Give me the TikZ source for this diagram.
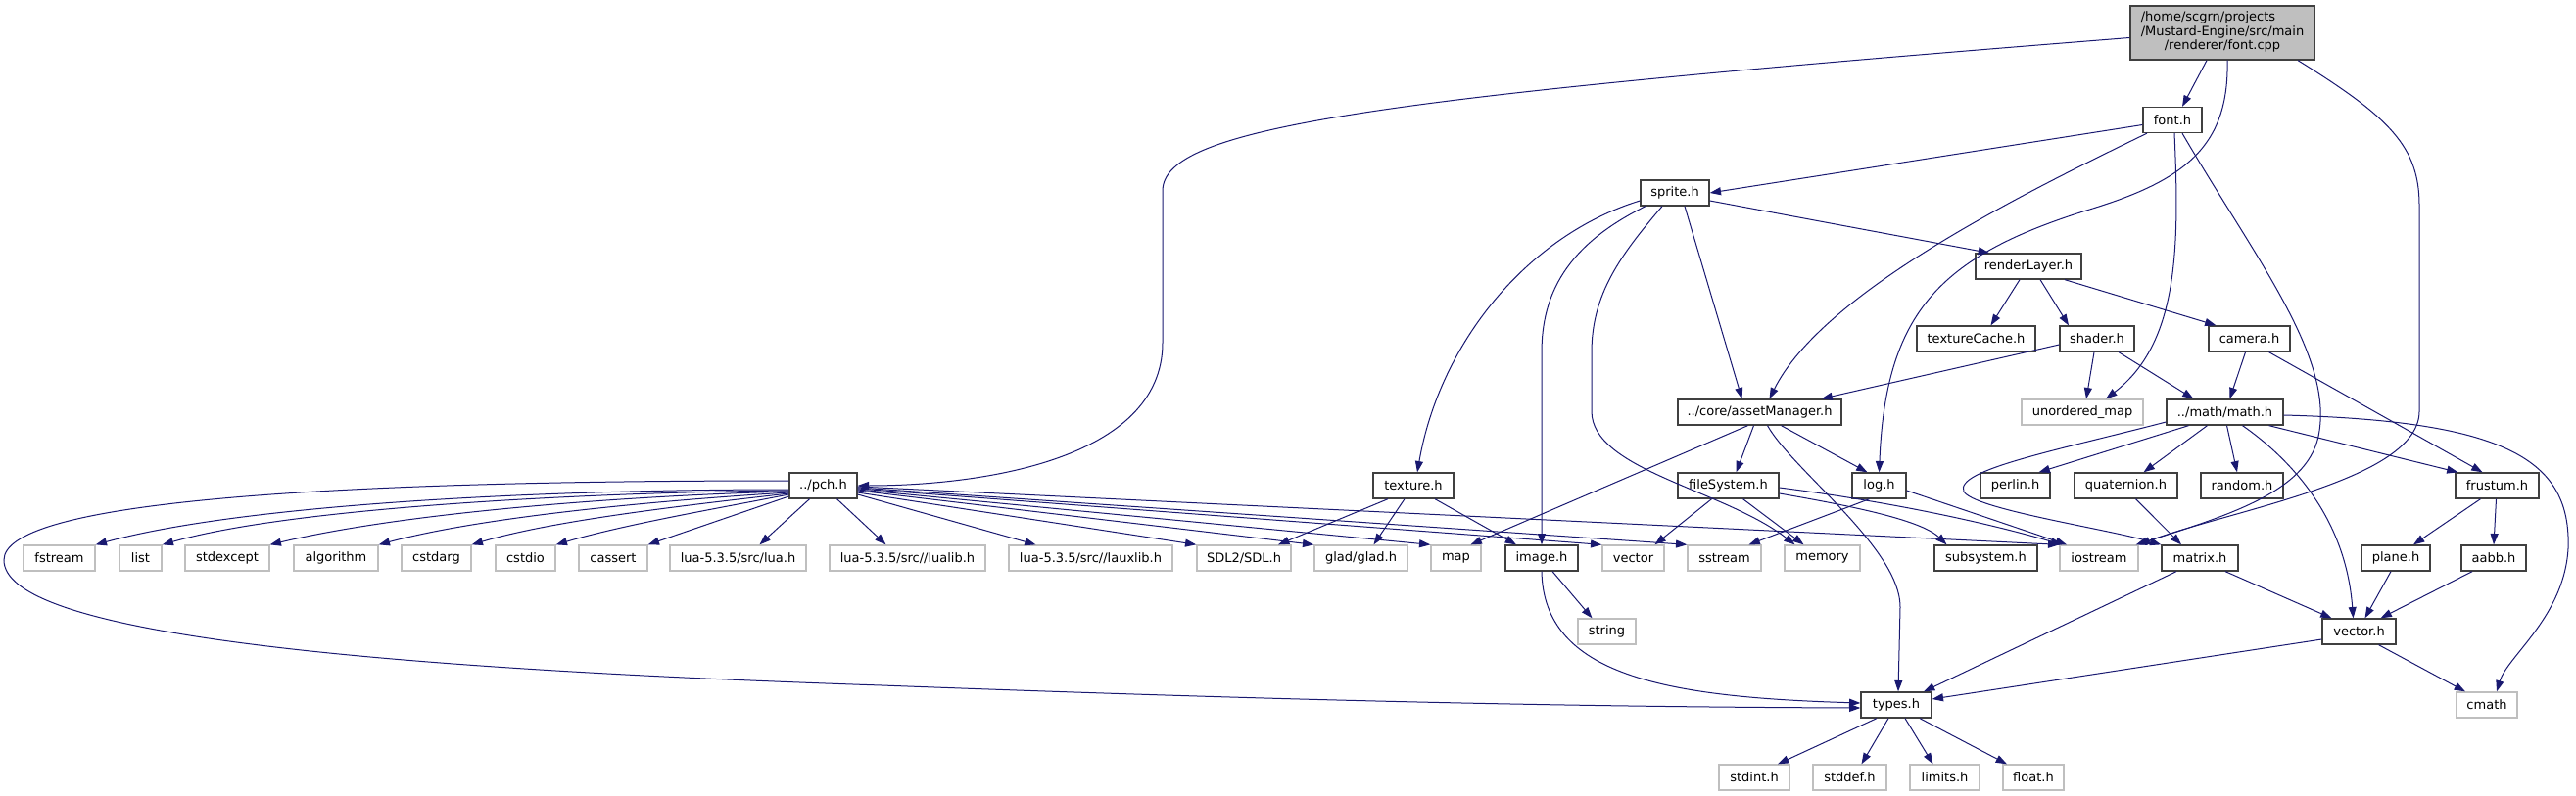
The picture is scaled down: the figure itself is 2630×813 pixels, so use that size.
\documentclass[tikz,border=0pt]{standalone}
\usepackage{fontspec}
\setmainfont{DejaVu Sans}
\usetikzlibrary{arrows.meta}
\definecolor{mblue}{HTML}{191970}
\definecolor{gborder}{HTML}{BFBFBF}
\definecolor{dborder}{HTML}{404040}
\definecolor{rootfill}{HTML}{BFBFBF}
\tikzset{
  bw/.style={minimum width=#1*0.75pt},
  dnode/.style={rectangle, draw=dborder, line width=1pt, fill=white, inner sep=0pt,
    minimum height=19.5pt, font=\fontsize{9.75}{11}\selectfont},
  gnode/.style={dnode, draw=gborder},
  rootnode/.style={dnode, fill=rootfill, minimum height=41.25pt},
  edge/.style={draw=mblue, line width=0.75pt, -{Triangle[length=8.5pt,width=6pt]}}
}
\begin{document}
\begin{tikzpicture}[x=0.75pt,y=-0.75pt]
\useasboundingbox (0,0) rectangle (2630,813);
% nodes
\node[rootnode,bw=188] (nroot) at (2269,33.5) {\fontsize{9.75}{10.9}\selectfont\begin{tabular}{@{}l@{}}/home/scgrn/projects\\/Mustard-Engine/src/main\\\multicolumn{1}{@{}c@{}}{/renderer/font.cpp}\end{tabular}};
\node[dnode,bw=60] (nfonth) at (2218,122.5) {font.h};
\node[dnode,bw=70] (nsprite) at (1710,197) {sprite.h};
\node[dnode,bw=108] (nrlayer) at (2071,272) {renderLayer.h};
\node[dnode,bw=121] (ntcache) at (2017.5,346) {textureCache.h};
\node[dnode,bw=76] (nshader) at (2141,346) {shader.h};
\node[dnode,bw=83] (ncamera) at (2296.5,346) {camera.h};
\node[dnode,bw=167] (namgr) at (1796.5,421) {../core/assetManager.h};
\node[gnode,bw=124] (numap) at (2126,421) {unordered\_map};
\node[dnode,bw=119] (nmathh) at (2271.5,421) {../math/math.h};
\node[dnode,bw=69] (npch) at (840.5,496) {../pch.h};
\node[dnode,bw=82] (ntexture) at (1443,496) {texture.h};
\node[dnode,bw=103] (nfsys) at (1764.5,496) {fileSystem.h};
\node[dnode,bw=55] (nlogh) at (1918.5,496) {log.h};
\node[dnode,bw=71] (nperlin) at (2057.5,496) {perlin.h};
\node[dnode,bw=105] (nquat) at (2170.5,496) {quaternion.h};
\node[dnode,bw=84] (nrandom) at (2289,496) {random.h};
\node[dnode,bw=85] (nfrustum) at (2549.5,496) {frustum.h};
% row
\node[gnode,bw=73] (nfstream) at (60.5,570) {fstream};
\node[gnode,bw=43] (nlist) at (143.5,570) {list};
\node[gnode,bw=86] (nstdexcept) at (232,570) {stdexcept};
\node[gnode,bw=86] (nalgorithm) at (343,570) {algorithm};
\node[gnode,bw=71] (ncstdarg) at (445.5,570) {cstdarg};
\node[gnode,bw=61] (ncstdio) at (536.5,570) {cstdio};
\node[gnode,bw=70] (ncassert) at (626,570) {cassert};
\node[gnode,bw=139] (nlua) at (753.5,570) {lua-5.3.5/src/lua.h};
\node[gnode,bw=159] (nlualib) at (926.5,570) {lua-5.3.5/src//lualib.h};
\node[gnode,bw=167] (nlauxlib) at (1113.5,570) {lua-5.3.5/src//lauxlib.h};
\node[gnode,bw=96] (nsdl) at (1270,570) {SDL2/SDL.h};
\node[gnode,bw=95] (nglad) at (1389.5,570) {glad/glad.h};
\node[gnode,bw=51] (nmap) at (1486.5,570) {map};
\node[dnode,bw=74] (nimage) at (1574,570) {image.h};
\node[gnode,bw=63] (nvector) at (1667.5,570) {vector};
\node[gnode,bw=75] (nsstream) at (1760.5,570) {sstream};
\node[gnode,bw=77] (nmemory) at (1860.5,570) {memory};
\node[dnode,bw=105] (nsubsys) at (2027.5,570) {subsystem.h};
\node[gnode,bw=80] (niostream) at (2143,570) {iostream};
\node[dnode,bw=78] (nmatrix) at (2246,570) {matrix.h};
\node[dnode,bw=70] (nplane) at (2446,570) {plane.h};
\node[dnode,bw=66] (naabb) at (2546,570) {aabb.h};
\node[gnode,bw=59] (nstring) at (1640.5,645) {string};
\node[dnode,bw=75] (nvectorh) at (2408.5,645) {vector.h};
\node[dnode,bw=72] (ntypes) at (1936,720) {types.h};
\node[gnode,bw=62] (ncmath) at (2539,720) {cmath};
\node[gnode,bw=72] (nstdint) at (1791,794) {stdint.h};
\node[gnode,bw=75] (nstddef) at (1888.5,794) {stddef.h};
\node[gnode,bw=71] (nlimits) at (1985.5,794) {limits.h};
\node[gnode,bw=62] (nfloat) at (2076,794) {float.h};
% edges from root
\draw[edge] ([shift={(0,5)}]nroot.west) .. controls (1400,100) and (1187,130) .. (1187,195) -- (1187,350) .. controls (1187,470) and (1000,496) .. (npch.east);
\draw[edge] ([shift={(-16,0)}]nroot.south) -- ([shift={(10,0)}]nfonth.north);
\draw[edge] ([shift={(5,0)}]nroot.south) .. controls (2276,150) and (2230,185) .. (2130,215) .. controls (1980,262) and (1925,320) .. (nlogh.north);
\draw[edge] ([shift={(77,0)}]nroot.south) .. controls (2440,120) and (2470,150) .. (2470,210) -- (2470,420) .. controls (2470,490) and (2280,520) .. (niostream.north east);
% font.h
\draw[edge] ([shift={(0,5)}]nfonth.west) -- (nsprite.east);
\draw[edge] ([shift={(-26,0)}]nfonth.south) .. controls (2060,200) and (1860,300) .. ([shift={(10,0)}]namgr.north);
\draw[edge] ([shift={(2,0)}]nfonth.south) .. controls (2225,250) and (2225,350) .. ([shift={(24,0)}]numap.north);
\draw[edge] ([shift={(10,0)}]nfonth.south) .. controls (2300,260) and (2380,360) .. (2368,440) .. controls (2360,500) and (2280,525) .. ([shift={(-3,0)}]niostream.north east);
% sprite.h
\draw[edge] ([shift={(0,8)}]nsprite.east) -- ([shift={(-40,0)}]nrlayer.north);
\draw[edge] ([shift={(0,8)}]nsprite.west) .. controls (1560,240) and (1470,350) .. ([shift={(4,0)}]ntexture.north);
\draw[edge] ([shift={(-30,0)}]nsprite.south) .. controls (1600,250) and (1574,300) .. (1574,360) -- (nimage.north);
\draw[edge] ([shift={(-13,0)}]nsprite.south) .. controls (1655,260) and (1625,300) .. (1625,360) -- (1625,420) .. controls (1625,480) and (1760,500) .. ([shift={(-28,0)}]nmemory.north);
\draw[edge] ([shift={(10,0)}]nsprite.south) -- ([shift={(-18,0)}]namgr.north);
% renderLayer
\draw[edge] ([shift={(-9,0)}]nrlayer.south) -- ([shift={(15,0)}]ntcache.north);
\draw[edge] ([shift={(12,0)}]nrlayer.south) -- ([shift={(-29,0)}]nshader.north);
\draw[edge] ([shift={(37,0)}]nrlayer.south) -- ([shift={(-34,0)}]ncamera.north);
% shader, camera
\draw[edge] ([shift={(0,6)}]nshader.west) -- ([shift={(63,0)}]namgr.north);
\draw[edge] ([shift={(-3,0)}]nshader.south) -- ([shift={(4,0)}]numap.north);
\draw[edge] ([shift={(22,0)}]nshader.south) -- ([shift={(-32,0)}]nmathh.north);
\draw[edge] ([shift={(-4,0)}]ncamera.south) -- ([shift={(5,0)}]nmathh.north);
\draw[edge] ([shift={(20,0)}]ncamera.south) -- ([shift={(-15,0)}]nfrustum.north);
% assetManager
\draw[edge] ([shift={(-12,0)}]namgr.south) -- ([shift={(15,0)}]nmap.north);
\draw[edge] ([shift={(-6,0)}]namgr.south) -- ([shift={(8,0)}]nfsys.north);
\draw[edge] ([shift={(8,0)}]namgr.south) .. controls (1830,480) and (1940,560) .. (1940,620) -- ([shift={(2,0)}]ntypes.north);
\draw[edge] ([shift={(22,0)}]namgr.south) -- ([shift={(-12,0)}]nlogh.north);
% pch left fan
\draw[edge] ([shift={(0,4)}]npch.west) .. controls (550,500) and (250,515) .. (nfstream.north east);
\draw[edge] ([shift={(0,5)}]npch.west) .. controls (600,503) and (300,518) .. (nlist.north east);
\draw[edge] ([shift={(0,6)}]npch.west) .. controls (650,506) and (420,522) .. (nstdexcept.north east);
\draw[edge] ([shift={(0,7)}]npch.west) .. controls (690,510) and (500,526) .. (nalgorithm.north east);
\draw[edge] ([shift={(0,8)}]npch.west) .. controls (720,514) and (570,530) .. (ncstdarg.north east);
\draw[edge] ([shift={(0,9)}]npch.west) .. controls (740,518) and (640,535) .. (ncstdio.north east);
\draw[edge] ([shift={(0,11)}]npch.west) -- (ncassert.north east);
\draw[edge] ([shift={(-14,0)}]npch.south) -- ([shift={(22,0)}]nlua.north);
\draw[edge] ([shift={(14,0)}]npch.south) -- ([shift={(-22,0)}]nlualib.north);
\draw[edge] ([shift={(0,9)}]npch.east) -- ([shift={(-56,0)}]nlauxlib.north);
\draw[edge] ([shift={(0,7)}]npch.east) -- (nsdl.north west);
\draw[edge] ([shift={(0,5)}]npch.east) -- (nglad.north west);
\draw[edge] ([shift={(0,4)}]npch.east) -- (nmap.north west);
\draw[edge] ([shift={(0,3)}]npch.east) -- (nvector.north west);
\draw[edge] ([shift={(0,2)}]npch.east) -- (nsstream.north west);
\draw[edge] ([shift={(0,1)}]npch.east) -- (niostream.north west);
\draw[edge] ([shift={(0,-5)}]npch.west) .. controls (300,491) and (4,515) .. (4,572) .. controls (4,640) and (300,680) .. (900,700) .. controls (1300,715) and (1600,722) .. ([shift={(0,3)}]ntypes.west);
% texture
\draw[edge] ([shift={(-26,0)}]ntexture.south) -- ([shift={(35,0)}]nsdl.north);
\draw[edge] ([shift={(-9,0)}]ntexture.south) -- ([shift={(13,0)}]nglad.north);
\draw[edge] ([shift={(22,0)}]ntexture.south) -- ([shift={(-26,0)}]nimage.north);
% fileSystem, log
\draw[edge] ([shift={(-17,0)}]nfsys.south) -- ([shift={(22,0)}]nvector.north);
\draw[edge] ([shift={(15,0)}]nfsys.south) -- ([shift={(-19,0)}]nmemory.north);
\draw[edge] ([shift={(0,8)}]nfsys.east) .. controls (1880,515) and (1960,530) .. ([shift={(-40,0)}]nsubsys.north);
\draw[edge] ([shift={(0,2)}]nfsys.east) .. controls (1950,515) and (2050,540) .. ([shift={(-38,0)}]niostream.north);
\draw[edge] ([shift={(-10,0)}]nlogh.south) -- ([shift={(25,0)}]nsstream.north);
\draw[edge] ([shift={(0,5)}]nlogh.east) -- ([shift={(-33,0)}]niostream.north);
% math
\draw[edge] ([shift={(-37,0)}]nmathh.south) -- ([shift={(24,0)}]nperlin.north);
\draw[edge] ([shift={(-18,0)}]nmathh.south) -- ([shift={(18,0)}]nquat.north);
\draw[edge] ([shift={(2,0)}]nmathh.south) -- ([shift={(-5,0)}]nrandom.north);
\draw[edge] ([shift={(45,0)}]nmathh.south) -- ([shift={(-40,0)}]nfrustum.north);
\draw[edge] ([shift={(0,10)}]nmathh.west) .. controls (2100,460) and (1995,480) .. (2005,502) .. controls (2015,520) and (2150,540) .. (nmatrix.north west);
\draw[edge] ([shift={(18,0)}]nmathh.south) .. controls (2340,470) and (2395,530) .. ([shift={(-6,0)}]nvectorh.north);
\draw[edge] ([shift={(0,3)}]nmathh.east) .. controls (2560,430) and (2625,470) .. (2622,560) .. controls (2618,630) and (2560,670) .. ([shift={(10,0)}]ncmath.north);
% lower
\draw[edge] ([shift={(10,0)}]nquat.south) -- ([shift={(-19,0)}]nmatrix.north);
\draw[edge] ([shift={(-17,0)}]nfrustum.south) -- ([shift={(18,0)}]nplane.north);
\draw[edge] ([shift={(-1,0)}]nfrustum.south) -- (naabb.north);
\draw[edge] ([shift={(-5,0)}]nplane.south) -- ([shift={(6,0)}]nvectorh.north);
\draw[edge] ([shift={(-22,0)}]naabb.south) -- ([shift={(22,0)}]nvectorh.north);
\draw[edge] ([shift={(-24,0)}]nmatrix.south) -- ([shift={(28,0)}]ntypes.north);
\draw[edge] ([shift={(26,0)}]nmatrix.south) -- ([shift={(-28,0)}]nvectorh.north);
\draw[edge] ([shift={(0,8)}]nvectorh.west) -- ([shift={(0,-6)}]ntypes.east);
\draw[edge] ([shift={(20,0)}]nvectorh.south) -- ([shift={(-22,0)}]ncmath.north);
\draw[edge] ([shift={(11,0)}]nimage.south) -- ([shift={(-15,0)}]nstring.north);
\draw[edge] (nimage.south) .. controls (1576,690) and (1700,712) .. ([shift={(0,-2)}]ntypes.west);
\draw[edge] ([shift={(-20,0)}]ntypes.south) -- ([shift={(24,0)}]nstdint.north);
\draw[edge] ([shift={(-8,0)}]ntypes.south) -- ([shift={(12,0)}]nstddef.north);
\draw[edge] ([shift={(9,0)}]ntypes.south) -- ([shift={(-12,0)}]nlimits.north);
\draw[edge] ([shift={(24,0)}]ntypes.south) -- ([shift={(-27,0)}]nfloat.north);
\end{tikzpicture}
\end{document}
